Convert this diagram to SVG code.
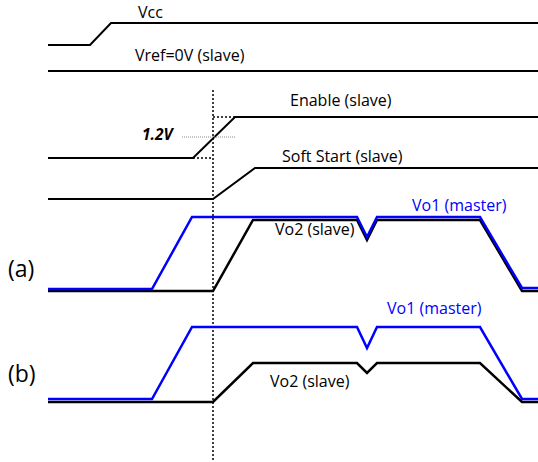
<svg xmlns="http://www.w3.org/2000/svg" width="538" height="462" viewBox="0 0 538 462">
<style>
.k{fill:none;stroke:#000;stroke-width:2;stroke-linejoin:miter}
.k2{fill:none;stroke:#000;stroke-width:2.5;stroke-linejoin:miter}
.b{fill:none;stroke:#0000ff;stroke-width:2.5;stroke-linejoin:miter}
.dot{fill:none;stroke:#000;stroke-width:1.5;stroke-dasharray:2 2}
.t{font-family:"Open Sans","Liberation Sans",sans-serif;font-size:16px;fill:#000}
.tb{font-family:"Open Sans","Liberation Sans",sans-serif;font-size:16px;fill:#0000ff}
.lab{font-family:"Open Sans","Liberation Sans",sans-serif;font-size:23px;fill:#000}
</style>
<rect width="538" height="462" fill="#fff"/>
<g id="vcc">
<polyline class="k" points="48,45 90,45 111,23 538,23"/>
<text class="t" x="138" y="18">Vcc</text>
</g>
<g id="vref">
<line class="k" x1="48" y1="71" x2="538" y2="71"/>
<text class="t" x="135" y="61">Vref=0V (slave)</text>
</g>
<g id="enable">
<polyline class="k" points="48,158 193,158 235,117 538,117"/>
<text class="t" x="290" y="106">Enable (slave)</text>
<line class="dot" x1="213" y1="117" x2="235" y2="117"/>
<line class="dot" x1="193" y1="158" x2="213" y2="158"/>
<line x1="182" y1="137" x2="235" y2="137" stroke="#888" stroke-width="1" stroke-dasharray="1 1"/>
<text x="142" y="140" font-family="'Open Sans','Liberation Sans',sans-serif" font-size="15.5" font-weight="bold" font-style="italic">1.2V</text>
</g>
<g id="softstart">
<polyline class="k" points="48,199 213,199 255,168 538,168"/>
<text class="t" x="282" y="162">Soft Start (slave)</text>
</g>
<g id="connectors">
<line class="dot" x1="213" y1="90" x2="213" y2="462"/>
</g>
<g id="a">
<text class="lab" x="8" y="277">(a)</text>
<polyline class="k2" points="48,291 213,291 253,220 357,220 367,240 377,220 480,220 522,291 538,291"/>
<polyline class="b" points="48,289 152,289 192,217 357,217 367,237 377,217 480,217 522,288 538,288"/>
<text class="tb" x="412" y="211">Vo1 (master)</text>
<text class="t" x="275" y="235">Vo2 (slave)</text>
</g>
<g id="b">
<text class="lab" x="8" y="382">(b)</text>
<polyline class="k2" points="48,402 213,402 253,363 357,363 367,373 377,363 480,363 522,402 538,402"/>
<polyline class="b" points="48,399 152,399 192,327 357,327 367,348 377,327 480,327 522,399 538,399"/>
<text class="tb" x="387" y="314">Vo1 (master)</text>
<text class="t" x="270" y="387">Vo2 (slave)</text>
</g>
</svg>
